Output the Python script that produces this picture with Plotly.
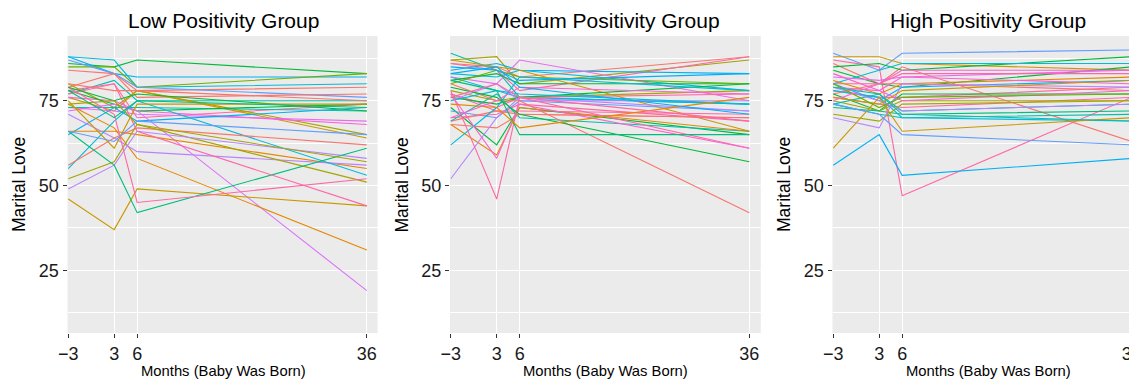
import plotly.graph_objects as go

months = [-3, 3, 6, 36]
panel_titles = ["Low Positivity Group", "Medium Positivity Group", "High Positivity Group"]
y_title = "Marital Love"
x_title = "Months (Baby Was Born)"

low_group = [
    [86, 85, 87, 83], [88, 87, 79, 80], [88, 83, 82, 82], [85, 85, 79, 83],
    [84, 83, 78, 79], [87, 83, 79, 76], [79, 83, 76, 77], [77, 81, 75, 75],
    [78, 80, 70, 74], [80, 73, 78, 65], [76, 72, 78, 64], [76, 75, 72, 68],
    [73, 72, 71, 69], [73, 73, 73, 72], [78, 74, 72, 74], [65, 73, 69, 73],
    [72, 74, 72, 19], [74, 67, 58, 31], [66, 66, 65, 55], [71, 64, 60, 56],
    [55, 69, 75, 53], [56, 64, 67, 62], [52, 57, 68, 51], [49, 56, 66, 58],
    [46, 37, 49, 44], [66, 56, 42, 61], [79, 71, 45, 52], [77, 80, 66, 44],
    [79, 75, 77, 72], [75, 61, 74, 74], [74, 75, 68, 57], [66, 63, 69, 65],
    [78, 70, 75, 73], [80, 78, 78, 75],
]
medium_group = [
    [89, 84, 76, 74], [87, 88, 80, 87], [86, 85, 82, 88], [86, 84, 78, 88],
    [84, 86, 84, 83], [83, 82, 84, 78], [82, 78, 76, 74], [82, 80, 87, 75],
    [81, 83, 80, 80], [80, 84, 82, 80], [87, 85, 84, 66], [78, 75, 76, 78],
    [77, 73, 76, 77], [77, 72, 72, 71], [76, 74, 76, 80], [75, 80, 75, 75],
    [75, 78, 77, 74], [73, 62, 73, 65], [72, 70, 75, 72], [70, 71, 74, 69],
    [69, 72, 71, 70], [69, 77, 70, 66], [68, 59, 73, 66], [68, 67, 71, 70],
    [62, 73, 82, 78], [52, 70, 76, 72], [78, 46, 76, 61], [77, 58, 74, 61],
    [80, 75, 75, 42], [79, 76, 71, 57], [81, 78, 65, 65], [74, 73, 67, 76],
    [85, 84, 81, 83], [76, 80, 76, 69], [70, 75, 79, 77], [83, 85, 79, 71],
]
high_group = [
    [89, 84, 89, 90], [88, 88, 86, 84], [87, 85, 47, 76], [86, 80, 85, 63],
    [85, 86, 84, 88], [84, 80, 79, 85], [80, 84, 86, 86], [82, 81, 82, 84],
    [80, 80, 83, 83], [81, 77, 80, 82], [80, 75, 79, 81], [79, 78, 82, 80],
    [78, 76, 76, 79], [77, 80, 80, 78], [77, 72, 77, 77], [76, 74, 73, 76],
    [75, 72, 75, 75], [74, 77, 72, 74], [73, 72, 71, 72], [74, 71, 70, 71],
    [78, 76, 70, 69], [71, 69, 74, 75], [70, 67, 80, 79], [61, 76, 66, 70],
    [56, 65, 53, 58], [74, 71, 65, 62], [79, 75, 72, 74], [83, 78, 75, 78],
    [76, 74, 78, 81], [80, 73, 76, 77], [75, 80, 84, 84], [79, 77, 71, 69],
]

# ggplot2 hue palette shades (styling)
SAL, ORA, GLD, OLV, GOL = "#F8766D", "#E58700", "#C99800", "#A3A500", "#6BB100"
GRN, TGR, TEA, CYN, BCY = "#00BA38", "#00BF7D", "#00C0AF", "#00BCD8", "#00B0F6"
BLU, LAV, VIO, MAG, PNK = "#619CFF", "#B983FF", "#E76BF3", "#FD61D1", "#FF67A4"

low_colors = [GRN, CYN, BCY, GOL, SAL, BLU, SAL, TEA, PNK, OLV, GLD, MAG, VIO, TEA,
              GRN, BCY, "#DC71FA", ORA, ORA, LAV, CYN, SAL, OLV, LAV, GLD, TGR, PNK,
              PNK, GRN, GLD, OLV, BLU, TGR, SAL]
medium_colors = [TEA, OLV, SAL, PNK, BCY, CYN, CYN, VIO, GRN, GOL, GLD, OLV, PNK, PNK,
                 GRN, LAV, CYN, GRN, BLU, PNK, SAL, TEA, ORA, SAL, CYN, LAV, PNK, MAG,
                 "#F8766D", GRN, TGR, ORA, BCY, PNK, MAG, BCY]
high_colors = [BLU, GLD, PNK, SAL, GRN, GRN, CYN, VIO, PNK, ORA, BCY, MAG, PNK, SAL,
               GRN, PNK, OLV, TEA, TGR, TEA, CYN, OLV, LAV, GLD, BCY, BLU, LAV, MAG,
               GLD, GOL, MAG, TEA]

# the page body has an 8px margin; target pixel coords are shifted by OFF
OFF = 8
WIN_W, WIN_H = 1137, 383
W, H = WIN_W - OFF, WIN_H - OFF
groups = [low_group, medium_group, high_group]
colors = [low_colors, medium_colors, high_colors]
# panel pixel geometry (window coords)
panel_left = [67.5, 450.0, 832.5]
px_per_unit = 7.655
x_min = -3.1
x_max = [37.4, 37.5, 36.0 + (WIN_W - 1131.7) / px_per_unit]
y_top, y_bot = 36, 333
y_range = [6.5, 94.1]


def fx(px):
    return (px - OFF) / W


def fy(py):
    return 1 - (py - OFF) / H


fig = go.Figure()
for p in range(3):
    xa = "x" if p == 0 else f"x{p+1}"
    ya = "y" if p == 0 else f"y{p+1}"
    for vals, col in zip(groups[p], colors[p]):
        fig.add_trace(go.Scatter(x=months, y=vals, mode="lines", xaxis=xa, yaxis=ya,
                                 line=dict(color=col, width=1.1), showlegend=False,
                                 hoverinfo="skip"))

layout = dict(width=W, height=H, margin=dict(l=0, r=0, t=0, b=0, autoexpand=False),
              paper_bgcolor="white", plot_bgcolor="#EBEBEB", showlegend=False,
              font=dict(family="Liberation Sans, Arial, sans-serif", color="#1a1a1a"))
annotations = []
for p in range(3):
    left = panel_left[p]
    right = min(WIN_W, left + (x_max[p] - x_min) * px_per_unit)
    key = "" if p == 0 else str(p + 1)
    layout["xaxis" + key] = dict(
        domain=[fx(left), min(1.0, fx(right))], range=[x_min, x_max[p]], automargin=False,
        tickvals=months, ticktext=["\u22123", "3", "6", "36"], ticklabeloverflow="allow",
        showgrid=True, gridcolor="white", gridwidth=1.1, zeroline=False,
        ticks="outside", ticklen=4, tickcolor="#333333", tickwidth=1,
        tickfont=dict(size=18, color="#1a1a1a"), showline=False,
        anchor="y" + key, fixedrange=True)
    layout["yaxis" + key] = dict(
        domain=[fy(y_bot), fy(y_top)], range=y_range, automargin=False,
        tickvals=[25, 50, 75], showgrid=True, gridcolor="white", gridwidth=1.1,
        minor=dict(tick0=12.5, dtick=25, showgrid=True, gridcolor="white", gridwidth=0.55),
        zeroline=False, ticks="outside", ticklen=4, tickcolor="#333333", tickwidth=1,
        tickfont=dict(size=18, color="#1a1a1a"), showline=False,
        anchor="x" + key, fixedrange=True)
    cx = left + (367 - 67.5) / 2 + 5
    annotations.append(dict(text=panel_titles[p], x=fx(cx + 1), y=fy(20.5),
                            xref="paper", yref="paper", showarrow=False,
                            font=dict(size=21, color="black"),
                            xanchor="center", yanchor="middle"))
    annotations.append(dict(text=x_title, x=fx(cx + 1), y=fy(370.5),
                            xref="paper", yref="paper", showarrow=False,
                            font=dict(size=14.8, color="black"),
                            xanchor="center", yanchor="middle"))
    annotations.append(dict(text=y_title, x=fx(left - 48.5), y=fy(185),
                            xref="paper", yref="paper", showarrow=False, textangle=-90,
                            font=dict(size=17.5, color="black"),
                            xanchor="center", yanchor="middle"))
layout["annotations"] = annotations
fig.update_layout(**layout)
fig.write_html("out.html")
